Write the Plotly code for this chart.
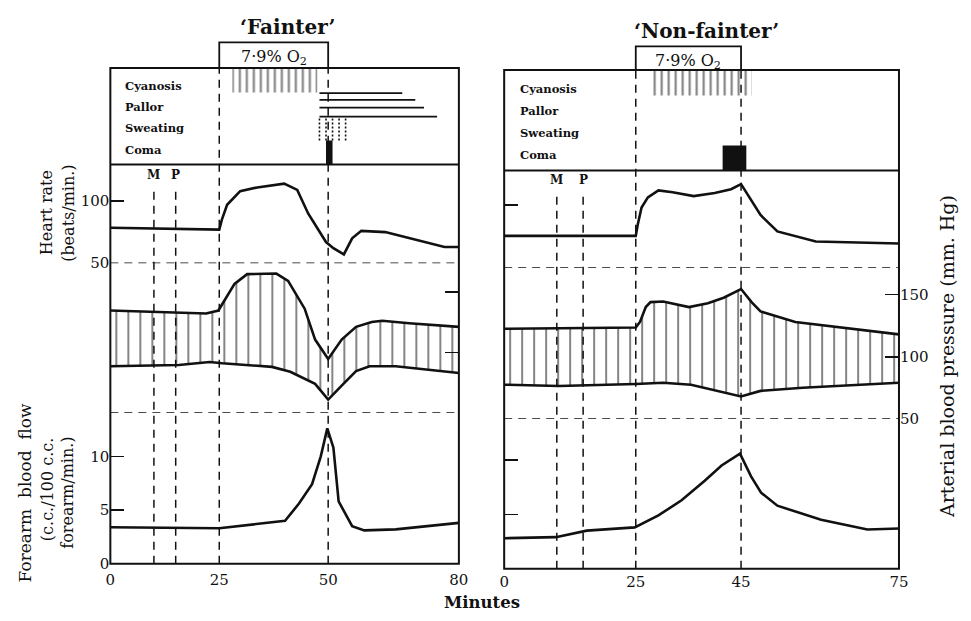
import numpy as np
import plotly.graph_objects as go

# ---------------- DATA ----------------
# 'Fainter'
f_hr_t = [0, 25, 25.6, 26.8, 29.8, 33.7, 39.9, 42.9, 45.4, 49.5, 51.2, 53.6, 55.5, 57.6, 63.1, 71.9, 76.7, 80]
f_hr = [78.5, 77, 85, 97, 108, 111, 114, 109, 90, 67, 62, 57, 70, 76, 75, 67, 63, 63]
f_sys_t = [0, 22, 24.8, 28.5, 31.4, 38.1, 40.8, 44.6, 47, 50, 53.1, 56.4, 60, 62.4, 68.6, 80]
f_sys = [134.5, 132, 134.5, 156.5, 164.5, 165, 159, 136, 110.5, 94.5, 110.5, 121, 125, 126, 124, 121]
f_dia_t = [0, 15.7, 22.8, 25.7, 37.1, 41.3, 47, 50, 53.1, 56.4, 59.5, 65.5, 80]
f_dia = [88.5, 89.5, 92, 91, 88, 84, 74, 61, 72.5, 84.5, 88.5, 88.5, 83]
f_flow_t = [0, 25, 40.1, 43.3, 46.3, 48.3, 49.8, 51.2, 52.4, 55.5, 58.3, 65.5, 80]
f_flow = [3.4, 3.3, 4.0, 5.6, 7.4, 10, 12.6, 10.8, 5.8, 3.5, 3.1, 3.2, 3.8]
f_o2 = [25, 50]
f_cyan_hatch = [28, 47.5]
f_cyan_line = [48, 67]
f_pallor_lines = [[48, 70], [48, 72]]
f_sweat_line = [48, 75]
f_sweat_dots = [48, 54]
f_coma = [49.5, 51]
f_marks = {"M": 10, "P": 15}
f_xticks = [0, 25, 50, 80]

# 'Non-fainter'
n_hr_t = [0, 25, 25.4, 26.1, 27.3, 29.3, 32, 36, 40, 43.1, 45, 46.3, 48.7, 51.9, 59.2, 75]
n_hr = [75.5, 75.5, 85, 98, 106, 111.5, 110, 107, 109.5, 112.5, 116.5, 108, 92, 79, 71, 69.5]
n_sys_t = [0, 25, 25.8, 26.9, 27.8, 30.2, 35.1, 38.7, 41.7, 45, 47, 48.7, 55.3, 64.1, 75]
n_sys = [122.5, 123.5, 128, 140, 144, 144.5, 140, 143, 147.5, 154.5, 144, 136.5, 128, 123.5, 118]
n_dia_t = [0, 10.4, 25, 30.2, 35.5, 45, 48.7, 56.7, 75]
n_dia = [77.5, 76.5, 78, 79, 77.5, 68, 72.5, 75, 79]
n_flow_t = [0, 9.8, 15.7, 24.8, 29.3, 33.7, 38.1, 41.3, 44.8, 46.9, 48.8, 51.9, 60.2, 69, 75]
n_flow = [2.8, 2.9, 3.5, 3.8, 4.9, 6.3, 8.1, 9.5, 10.6, 8.5, 7.0, 5.8, 4.5, 3.6, 3.7]
n_o2 = [25, 45]
n_cyan_hatch = [28, 47]
n_coma = [41.5, 46]
n_marks = {"M": 10, "P": 15}
n_xticks = [0, 25, 45, 75]

symptoms = ["Cyanosis", "Pallor", "Sweating", "Coma"]

# ---------------- LAYOUT GEOMETRY ----------------
W, H = 971, 621
def px(x): return x / W
def py(y): return 1 - y / H

FONT = "DejaVu Serif"
BLACK = "#111"

panels = [
    dict(name="‘Fainter’", xr=[0, 80], xdom=[107, 461], ys=[69, 167, 267, 419, 572],
         hr=[50, 129.4], bp=[50, 173.6], fl=[0, 14.04], title_xy=(287, 27), o2_top=43, o2_y=58,
         mark_y=178, mark_line=192, standoff=5),
    dict(name="‘Non-fainter’", xr=[0, 75], xdom=[507, 908], ys=[71, 173, 272, 425, 577],
         hr=[50, 127.3], bp=[50, 171.4], fl=[0, 13.8], title_xy=(713, 31), o2_top=47, o2_y=62,
         mark_y=183, mark_line=197, standoff=2),
]

fig = go.Figure()
layout = dict(width=W, height=H, margin=dict(l=0, r=0, t=0, b=0),
              paper_bgcolor="white", plot_bgcolor="rgba(0,0,0,0)", showlegend=False,
              font=dict(family=FONT, color=BLACK))
shapes, annotations = [], []

SYM_RANGE = [0.3, 4.85]
row_y = {"Cyanosis": 4, "Pallor": 3, "Sweating": 2, "Coma": 1}

def ann(text, x, y, size, xref="paper", yref="paper", weight="normal", angle=0, xanchor="center"):
    annotations.append(dict(text=text, xref=xref, yref=yref, x=x, y=y, showarrow=False,
                            xanchor=xanchor, yanchor="middle", textangle=angle,
                            font=dict(size=size, family=FONT, color=BLACK, weight=weight)))

def line_trace(x, y, xa, ya, width=2.6, dash=None, color=BLACK):
    return go.Scatter(x=x, y=y, xaxis=xa, yaxis=ya, mode="lines",
                      line=dict(color=color, width=width, dash=dash), hoverinfo="skip")

def rect_trace(x0, x1, y0, y1, xa, ya, pattern=None, color=BLACK):
    kw = dict(x=[x0, x1, x1, x0, x0], y=[y0, y0, y1, y1, y0], xaxis=xa, yaxis=ya,
              mode="lines", line=dict(width=0, color=color), fill="toself", hoverinfo="skip")
    if pattern:
        kw["fillcolor"] = "white"
        kw["fillpattern"] = pattern
    else:
        kw["fillcolor"] = color
    return go.Scatter(**kw)

TICKFONT = dict(size=15, family=FONT, color=BLACK)

for i, p in enumerate(panels):
    xa = "x" if i == 0 else "x2"
    xkey = "xaxis" if i == 0 else "xaxis2"
    base = 4 * i
    ysym, yhr, ybp, yfl = [f"y{base + k}" if base + k > 1 else "y" for k in (1, 2, 3, 4)]
    keys = [("yaxis" if base + k == 1 else f"yaxis{base + k}") for k in (1, 2, 3, 4)]
    ys = p["ys"]
    xd = [px(p["xdom"][0]), px(p["xdom"][1])]
    ticks_x = f_xticks if i == 0 else n_xticks
    layout[xkey] = dict(domain=xd, range=p["xr"], anchor=yfl, tickvals=ticks_x, ticks="",
                        ticklabelstandoff=p["standoff"],
                        showgrid=False, zeroline=False, showline=False, tickfont=TICKFONT)
    common = dict(anchor=xa, showgrid=False, zeroline=False, showline=False)
    layout[keys[0]] = dict(domain=[py(ys[1]), py(ys[0])], range=SYM_RANGE, visible=False, **common)
    layout[keys[1]] = dict(domain=[py(ys[2]), py(ys[1])], range=p["hr"], ticks="inside", ticklen=14,
                           tickwidth=1.6, tickcolor=BLACK, tickvals=[50, 100], showticklabels=(i == 0),
                           tickfont=TICKFONT, **common)
    layout[keys[2]] = dict(domain=[py(ys[3]), py(ys[2])], range=p["bp"], side="right", ticks="inside",
                           ticklen=14, tickwidth=1.6, tickcolor=BLACK,
                           tickvals=[100, 150] if i == 0 else [50, 100, 150], showticklabels=(i == 1),
                           tickfont=TICKFONT, **common)
    layout[keys[3]] = dict(domain=[py(ys[4]), py(ys[3])], range=p["fl"], ticks="inside", ticklen=14,
                           tickwidth=1.6, tickcolor=BLACK, tickvals=[0, 5, 10], showticklabels=(i == 0),
                           tickfont=TICKFONT, **common)

    if i == 0:
        hr_t, hr, st, sv, dt, dv, ft, fv = f_hr_t, f_hr, f_sys_t, f_sys, f_dia_t, f_dia, f_flow_t, f_flow
        o2, hatch, coma, marks = f_o2, f_cyan_hatch, f_coma, f_marks
    else:
        hr_t, hr, st, sv, dt, dv, ft, fv = n_hr_t, n_hr, n_sys_t, n_sys, n_dia_t, n_dia, n_flow_t, n_flow
        o2, hatch, coma, marks = n_o2, n_cyan_hatch, n_coma, n_marks

    # BP band with vertical hatching
    fig.add_trace(go.Scatter(x=list(st) + list(dt)[::-1], y=list(sv) + list(dv)[::-1], xaxis=xa, yaxis=ybp,
                             mode="lines", line=dict(width=0), fill="toself", fillcolor="white",
                             fillpattern=dict(shape="|", size=12, solidity=0.16, fgcolor="#000", bgcolor="white"),
                             hoverinfo="skip"))
    fig.add_trace(line_trace(st, sv, xa, ybp))
    fig.add_trace(line_trace(dt, dv, xa, ybp))
    fig.add_trace(line_trace(hr_t, hr, xa, yhr))
    fig.add_trace(line_trace(ft, fv, xa, yfl))

    # symptom panel
    fig.add_trace(rect_trace(hatch[0], hatch[1], 3.7, SYM_RANGE[1], xa, ysym,
                             pattern=dict(shape="|", size=7, solidity=0.3, fgcolor="#000", bgcolor="white")))
    fig.add_trace(rect_trace(coma[0], coma[1], SYM_RANGE[0], 1.43, xa, ysym))
    if i == 0:
        fig.add_trace(line_trace(f_cyan_line, [3.67, 3.67], xa, ysym, width=1.8))
        fig.add_trace(line_trace(f_pallor_lines[0], [3.35, 3.35], xa, ysym, width=1.8))
        fig.add_trace(line_trace(f_pallor_lines[1], [2.98, 2.98], xa, ysym, width=1.8))
        fig.add_trace(line_trace(f_sweat_line, [2.56, 2.56], xa, ysym, width=1.8))
        for xv in np.linspace(f_sweat_dots[0], f_sweat_dots[1], 5):
            fig.add_trace(line_trace([xv, xv], [2.47, 1.43], xa, ysym, width=1.6, dash="2px,2px"))

    for s in symptoms:
        ann(s, 0.035, row_y[s], 11.5, xref=f"{xa} domain", yref=ysym, weight="bold", xanchor="left")

    # frames
    x0p, x1p = p["xdom"]
    shapes.append(dict(type="rect", xref="paper", yref="paper", x0=px(x0p), x1=px(x1p),
                       y0=py(ys[4]), y1=py(ys[0]), line=dict(color=BLACK, width=2)))
    shapes.append(dict(type="line", xref="paper", yref="paper", x0=px(x0p), x1=px(x1p),
                       y0=py(ys[1]), y1=py(ys[1]), line=dict(color=BLACK, width=2)))
    # O2 box
    shapes.append(dict(type="rect", xref=xa, yref="paper", x0=o2[0], x1=o2[1],
                       y0=py(ys[0]), y1=py(p["o2_top"]), line=dict(color=BLACK, width=1.8)))
    ann("7·9% O<sub>2</sub>", (o2[0] + o2[1]) / 2, py(p["o2_y"]), 16, xref=xa)
    # dashed guides
    dash = dict(color=BLACK, width=1.5, dash="8px,6px")
    for xv in o2:
        shapes.append(dict(type="line", xref=xa, yref="paper", x0=xv, x1=xv,
                           y0=py(ys[4]), y1=py(ys[0]), line=dash))
    for lab, xv in marks.items():
        shapes.append(dict(type="line", xref=xa, yref="paper", x0=xv, x1=xv,
                           y0=py(ys[4]), y1=py(p["mark_line"]), line=dash))
        ann(lab, xv, py(p["mark_y"]), 12, xref=xa, weight="bold")
    shapes.append(dict(type="line", xref=f"{xa} domain", yref=yhr, x0=0, x1=1, y0=50, y1=50, line=dash))
    shapes.append(dict(type="line", xref=f"{xa} domain", yref=ybp, x0=0, x1=1, y0=50, y1=50, line=dash))

    ann(p["name"], px(p["title_xy"][0]), py(p["title_xy"][1]), 20, weight="bold")

# axis titles
ann("Heart rate", px(43), py(216), 16, angle=-90)
ann("(beats/min.)", px(65), py(216), 16, angle=-90)
ann("Forearm  blood  flow", px(20), py(500), 17, angle=-90)
ann("(c.c./100 c.c.", px(43), py(497), 16, angle=-90)
ann("forearm/min.)", px(64), py(500), 16, angle=-90)
ann("Arterial blood pressure (mm. Hg)", px(957), py(362), 19, angle=-90)
ann("Minutes", px(484), py(611), 16.5, weight="bold")

layout["shapes"] = shapes
layout["annotations"] = annotations
fig.update_layout(**layout)
fig.write_html("out.html", config={"displayModeBar": False, "staticPlot": True},
               post_script="document.body.style.margin='0';document.body.style.overflow='hidden';")
